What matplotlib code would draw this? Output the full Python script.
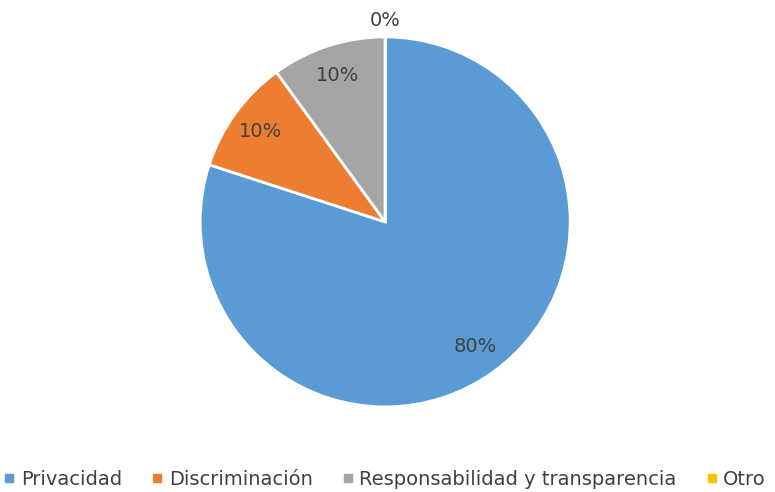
import matplotlib
matplotlib.use('Agg')
import matplotlib.pyplot as plt
from matplotlib.lines import Line2D

# datos
categorias = ['Privacidad', 'Discriminación', 'Responsabilidad y transparencia', 'Otro']
valores = [80, 10, 10, 0]
colores = ['#5B9BD5', '#ED7D31', '#A5A5A5', '#FFC000']
texto_color = '#404040'

fig = plt.figure(figsize=(7.75, 4.92), dpi=100)
# ejes del pastel: centro en (385, 222) px, radio 185 px
ax = fig.add_axes([0.497 - 0.2387, 0.549 - 0.376, 0.4774, 0.752])

wedges, textos, pct = ax.pie(valores, colors=colores, startangle=90, counterclock=False,
                             radius=1, pctdistance=0.83,
                             autopct=lambda p: '%d%%' % round(p),
                             wedgeprops=dict(edgecolor='white', linewidth=2),
                             textprops=dict(color=texto_color, fontsize=14))
# la etiqueta de 0% va fuera del pastel
pct[3].set_position((0, 1.09))
ax.set_xlim(-1, 1)
ax.set_ylim(-1, 1)
ax.set_aspect('equal')
ax.axis('off')

# leyenda abajo
handles = [Line2D([0], [0], marker='s', linestyle='none', markersize=5.5,
                  markerfacecolor=c, markeredgecolor=c) for c in colores]
fig.legend(handles, categorias, loc='lower center', bbox_to_anchor=(0.497, -0.03),
           ncol=4, frameon=False, fontsize=14, labelcolor=texto_color,
           handlelength=0.5, handletextpad=0.35, columnspacing=1.55)

fig.savefig('out.png', dpi=100)
